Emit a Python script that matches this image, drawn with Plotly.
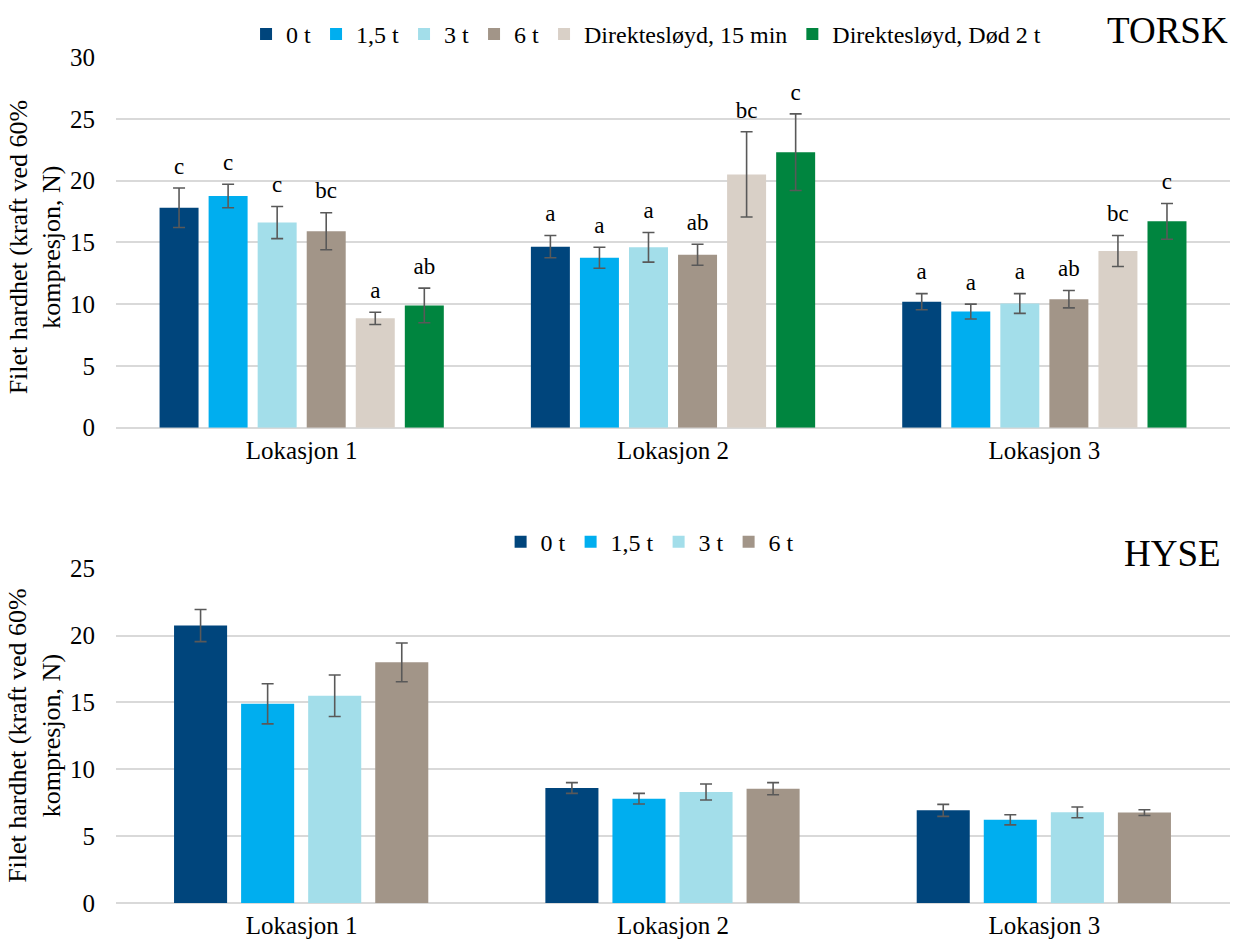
import plotly.graph_objects as go

# ---------------- data ----------------
locations = ["Lokasjon 1", "Lokasjon 2", "Lokasjon 3"]

torsk_series = ["0 t", "1,5 t", "3 t", "6 t", "Direktesløyd, 15 min", "Direktesløyd, Død 2 t"]
torsk_values = [
    [17.8, 14.65, 10.2],
    [18.75, 13.75, 9.4],
    [16.6, 14.6, 10.05],
    [15.9, 14.0, 10.4],
    [8.85, 20.5, 14.3],
    [9.9, 22.3, 16.7],
]
torsk_errors = [
    [1.6, 0.9, 0.65],
    [0.95, 0.85, 0.6],
    [1.3, 1.2, 0.8],
    [1.5, 0.85, 0.7],
    [0.5, 3.45, 1.25],
    [1.4, 3.1, 1.45],
]
torsk_letters = [
    ["c", "a", "a"],
    ["c", "a", "a"],
    ["c", "a", "a"],
    ["bc", "ab", "ab"],
    ["a", "bc", "bc"],
    ["ab", "c", "c"],
]

hyse_series = ["0 t", "1,5 t", "3 t", "6 t"]
hyse_values = [
    [20.75, 8.6, 6.93],
    [14.9, 7.8, 6.22],
    [15.5, 8.3, 6.78],
    [18.0, 8.55, 6.76],
]
hyse_errors = [
    [1.2, 0.4, 0.45],
    [1.5, 0.4, 0.38],
    [1.55, 0.6, 0.4],
    [1.45, 0.45, 0.22],
]

colors = ["#00457c", "#00aeef", "#a3deea", "#a29588", "#d9d0c7", "#00853f"]

FONT = "Liberation Serif, Times New Roman, serif"
ERR_COLOR = "#595959"
GRID = "#d9d9d9"
CAT_RANGE = [-0.5, len(locations) - 0.5]

fig = go.Figure()


def add_group(series, values, errors, letters, xaxis, yaxis, legend, bar_w, slot, start):
    for i, name in enumerate(series):
        off = start + i * slot
        fig.add_trace(go.Bar(
            x=locations, y=values[i], name=name,
            marker=dict(color=colors[i], line=dict(width=0)),
            width=bar_w, offset=off,
            error_y=dict(type="data", array=errors[i], visible=True,
                         color=ERR_COLOR, thickness=1.6, width=6),
            xaxis=xaxis, yaxis=yaxis, legend=legend,
            hoverinfo="skip",
        ))
        if letters is not None:
            # significance letters sit above the error bar of each bar
            tops = [v + e for v, e in zip(values[i], errors[i])]
            centers = [k + off + bar_w / 2 for k in range(len(locations))]
            fig.add_trace(go.Scatter(
                x=centers, y=tops, text=letters[i], mode="markers+text",
                textposition="top center", cliponaxis=False,
                marker=dict(size=12, opacity=0),
                textfont=dict(family=FONT, size=23, color="#000000"),
                showlegend=False, xaxis="x3", yaxis=yaxis, hoverinfo="skip",
            ))


# top panel: 6 bars per group
add_group(torsk_series, torsk_values, torsk_errors, torsk_letters,
          "x", "y", "legend", 0.105, 0.1321, -0.3827)
# bottom panel: 4 bars per group
add_group(hyse_series, hyse_values, hyse_errors, None,
          "x2", "y2", "legend2", 0.1429, 0.1806, -0.3437)

axis_font = dict(family=FONT, size=25, color="#000000")

fig.update_layout(
    width=1243, height=951,
    margin=dict(l=116, r=13, t=49, b=44),
    paper_bgcolor="white", plot_bgcolor="white",
    barmode="overlay",
    font=dict(family=FONT, size=25, color="#000000"),
    xaxis=dict(domain=[0, 1], anchor="y", type="category", range=CAT_RANGE,
               showgrid=False, showline=False, ticks="", tickfont=axis_font,
               ticklabelstandoff=5),
    xaxis3=dict(overlaying="x", anchor="y", type="linear", range=CAT_RANGE,
                visible=False, showgrid=False, zeroline=False),
    yaxis=dict(domain=[0.5618, 1], anchor="x", range=[0, 30], dtick=5,
               showgrid=True, gridcolor=GRID, gridwidth=1.6,
               zeroline=True, zerolinecolor=GRID, zerolinewidth=1.6,
               ticks="", tickfont=axis_font, ticklabelstandoff=20),
    xaxis2=dict(domain=[0, 1], anchor="y2", type="category", range=CAT_RANGE,
                showgrid=False, showline=False, ticks="", tickfont=axis_font,
                ticklabelstandoff=5),
    yaxis2=dict(domain=[0, 0.3951], anchor="x2", range=[0, 25], dtick=5,
                showgrid=True, gridcolor=GRID, gridwidth=1.6,
                zeroline=True, zerolinecolor=GRID, zerolinewidth=1.6,
                ticks="", tickfont=axis_font, ticklabelstandoff=20),
    legend=dict(orientation="h", x=0.4758, xanchor="center", y=1.0268, yanchor="middle",
                font=dict(family=FONT, size=24), itemwidth=30, tracegroupgap=0,
                bgcolor="rgba(0,0,0,0)"),
    legend2=dict(orientation="h", x=0.479, xanchor="center", y=0.4266, yanchor="middle",
                 font=dict(family=FONT, size=24), itemwidth=30,
                 bgcolor="rgba(0,0,0,0)"),
    showlegend=True,
)

ytitle = "Filet hardhet (kraft ved 60%<br>kompresjon, N)"
fig.add_annotation(text=ytitle, textangle=-90, xref="paper", yref="paper",
                   x=-0.0727, y=0.7750, xanchor="center", yanchor="middle",
                   showarrow=False, font=dict(family=FONT, size=26))
fig.add_annotation(text=ytitle, textangle=-90, xref="paper", yref="paper",
                   x=-0.0727, y=0.1976, xanchor="center", yanchor="middle",
                   showarrow=False, font=dict(family=FONT, size=26))
fig.add_annotation(text="TORSK", xref="paper", yref="paper", x=1.0, y=1.0315,
                   xanchor="right", yanchor="middle", showarrow=False,
                   font=dict(family=FONT, size=37))
fig.add_annotation(text="HYSE", xref="paper", yref="paper", x=0.9937, y=0.4126,
                   xanchor="right", yanchor="middle", showarrow=False,
                   font=dict(family=FONT, size=37))

fig.write_html("out.html")
